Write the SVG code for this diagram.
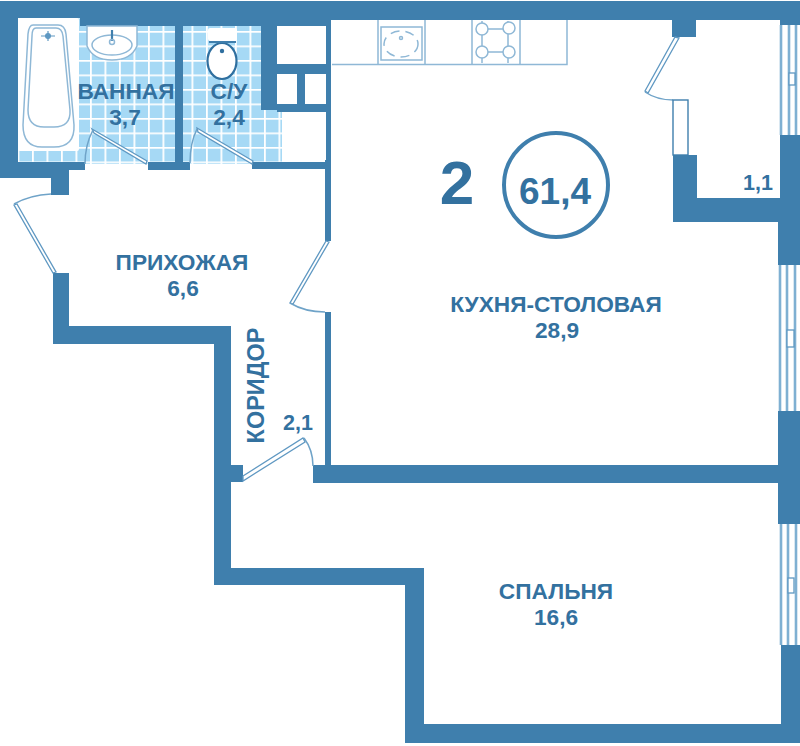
<svg xmlns="http://www.w3.org/2000/svg" width="800" height="746" viewBox="0 0 800 746">
<style>
.wall{fill:#3f7fad}
.lbl{font-family:"Liberation Sans",Arial,sans-serif;font-weight:bold;fill:#33719f;text-anchor:middle;font-size:22.7px}
.fix{fill:#fff;stroke:#8fb8d6;stroke-width:1.5}
.thin{fill:none;stroke:#8fb8d6;stroke-width:1.5}
.win{fill:none;stroke:#7fb0d2;stroke-width:2.600}
.arc{fill:none;stroke:#6fa3c8;stroke-width:1.5}
.leaf{fill:#fff;stroke:#5f98c2;stroke-width:1.3}
</style>
<defs>
<pattern id="tile" x="3" y="2" width="14.5" height="14.5" patternUnits="userSpaceOnUse">
<rect width="14.5" height="14.5" fill="#a6d9f5"/>
<path d="M0 0.9H14.5M0.9 0V14.5" stroke="#fff" stroke-width="1.8"/>
</pattern>
</defs>
<rect width="800" height="746" fill="#fff"/>
<g id="tiles">
<rect x="18" y="18" width="157" height="146" fill="url(#tile)"/>
<rect x="183" y="26" width="80" height="138" fill="url(#tile)"/>
<rect x="260" y="110" width="24" height="54" fill="url(#tile)"/>
</g>
<g id="walls">
<path class="wall" d="M0 1H800V25H780V20H696V37H672V20H331V241H325V160H326V26H80V18H18V162H85V170H69V195H51V178H0Z"/>
<rect class="wall" x="148" y="162" width="42" height="8"/>
<rect class="wall" x="175" y="26" width="8" height="140"/>
<rect class="wall" x="252" y="162" width="79" height="7"/>
<path class="wall" d="M261 26H277V110H261Z"/>
<rect class="wall" x="297" y="70" width="8" height="36"/>
<rect class="wall" x="277" y="64" width="50" height="10"/>
<rect class="wall" x="277" y="104" width="50" height="8"/>
<path class="wall" d="M673 155H697V198H780V135H800V265H778V222H673Z"/>
<path class="wall" d="M53 273H69V326H231V465H243V482H231V568H424V724H781V645H800V743H405V585H214V344H53Z"/>
<path class="wall" d="M325 312H331V465H778V411H800V524H778V483H313V465H325Z"/>
</g>
<g id="shafts">
<rect x="277" y="31" width="49" height="33" fill="#fff"/>
<rect x="278" y="74" width="19" height="30" fill="#fff"/>
<rect x="305" y="74" width="19" height="30" fill="#fff"/>
<rect x="282" y="112" width="43" height="50" fill="#fff"/>
</g>
<g id="windows">
<path class="win" d="M781 25V135M789 25V135M796 25V135"/>
<rect x="789" y="73" width="6" height="12" class="leaf"/>
<path class="win" d="M780 265V411M787 265V411M795 265V411"/>
<rect x="787" y="330" width="7" height="17" class="leaf"/>
<path class="win" d="M781 524V645M788 524V645M796 524V645"/>
<rect x="788" y="578" width="6" height="15" class="leaf"/>
</g>
<g id="doors">
<polygon class="leaf" points="92,129 147,161 146,164 94,133"/>
<path class="arc" d="M93 130Q85 145 85 164"/>
<polygon class="leaf" points="197,128 253,161 252,164 198,132"/>
<path class="arc" d="M197 129Q190 143 190 163"/>
<polygon class="leaf" points="14,205 17,204 56,272 53,273"/>
<path class="arc" d="M14 204Q30 195 51 194"/>
<polygon class="leaf" points="326,241 329,242 293,304 290,303"/>
<path class="arc" d="M290 303Q305 312 325 312"/>
<polygon class="leaf" points="243,476 303,438 305,442 243,481"/>
<path class="arc" d="M304 438Q313 450 313 466"/>
<polygon class="leaf" points="675,37 679,38 648,93 645,91"/>
<path class="arc" d="M645 92Q657 100 673 100"/>
<rect x="673" y="100" width="15" height="55" fill="#fff" stroke="#3f7fad" stroke-width="1.4"/>
</g>
<g id="bathtub">
<rect x="18" y="18" width="61" height="133" rx="2" fill="#fff"/>
<path class="thin" d="M33 25H58Q65 25 66 34L74 125Q75 147 54 147H42Q23 147 23 125L28 34Q29 25 33 25Z"/>
<path class="thin" d="M36 28H56Q62 28 63 36L70 110Q71 127 54 127H44Q28 127 28 110L32 36Q32 28 36 28Z"/>
<circle cx="48" cy="36" r="3" fill="#5f98c2"/>
<path d="M41 36H55M48 31V41" stroke="#5f98c2" stroke-width="1.2"/>
</g>
<g id="basin">
<path class="fix" d="M87 26H137V46Q131 60 112 60Q93 60 87 46Z"/>
<ellipse cx="112" cy="45" rx="20" ry="10" class="thin"/>
<path d="M112 30V41" stroke="#3f7fad" stroke-width="2.200"/>
<circle cx="112" cy="42" r="2.500" class="thin"/>
</g>
<g id="toilet">
<rect x="208" y="28" width="29" height="13" rx="2" fill="#fff"/>
<ellipse cx="222" cy="61" rx="14.500" ry="18" fill="#fff" stroke="#2f6f9f" stroke-width="2.200"/>
<circle cx="222" cy="51" r="2.200" fill="#2f6f9f"/>
<path d="M209 42L236 42" stroke="#3f7fad" stroke-width="2"/>
</g>
<g id="kitchen">
<path class="thin" d="M332 64.500H567V20M378 20V64M425 20V64M472 20V64M520 20V64"/>
<rect x="381" y="27" width="41" height="33" class="thin"/>
<ellipse cx="401" cy="44" rx="17" ry="13" class="thin" stroke-dasharray="9 6"/>
<circle cx="401" cy="38" r="1.500" class="thin"/>
<path class="thin" d="M482 29H508M482 52H508M482 29V52M508 29V52M482 21V25M508 21V25M482 56V63M508 56V63"/>
<g fill="#fff" stroke="#8fb8d6" stroke-width="1.500">
<circle cx="482" cy="29" r="6"/><circle cx="509" cy="28" r="6"/><circle cx="482" cy="52" r="6"/><circle cx="509" cy="52" r="6"/>
</g>
</g>
<g id="labels">
<text class="lbl" x="126" y="99">ВАННАЯ</text>
<text class="lbl" x="125" y="125">3,7</text>
<text class="lbl" x="229" y="99">С/У</text>
<text class="lbl" x="229" y="125">2,4</text>
<text class="lbl" x="182" y="270">ПРИХОЖАЯ</text>
<text class="lbl" x="183" y="296">6,6</text>
<text class="lbl" x="556" y="312">КУХНЯ-СТОЛОВАЯ</text>
<text class="lbl" x="557" y="338">28,9</text>
<text class="lbl" x="556" y="599">СПАЛЬНЯ</text>
<text class="lbl" x="556" y="625">16,6</text>
<text class="lbl" x="298" y="430" style="font-size:21.500px">2,1</text>
<text class="lbl" x="758" y="190" style="font-size:21.500px">1,1</text>
<text class="lbl" transform="translate(264 385.500) rotate(-90)" style="font-size:23.500px">КОРИДОР</text>
<text class="lbl" x="457" y="204" style="font-size:62px">2</text>
<text class="lbl" x="555" y="204" style="font-size:37px">61,4</text>
<circle cx="556" cy="185" r="52" fill="none" stroke="#3f7fad" stroke-width="4"/>
</g>
</svg>
